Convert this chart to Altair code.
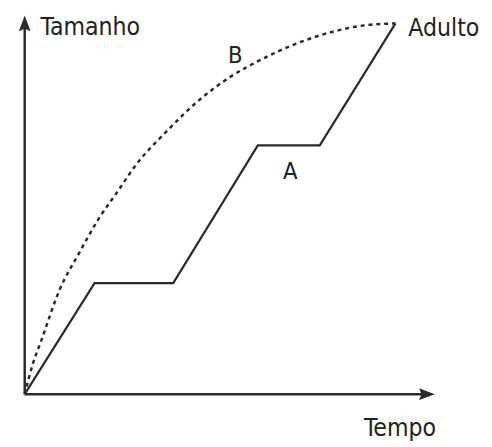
import altair as alt
import pandas as pd

# Line A (stepwise growth), in chart units (time, size)
a_x = [0, 71, 151, 237, 300, 377]
a_y = [0, 113, 113, 253, 253, 377]

# Curve B (continuous growth), read points
b_x = [0, 8, 17, 35, 55, 75, 95, 113, 145, 175, 208, 242, 275, 315, 345, 377]
b_y = [0, 30, 55, 105, 143, 178, 207, 233, 268, 297, 322, 341, 356, 369, 375, 377]

# Axes
axis_x = [0, 0]
axis_x2 = [0, 412]
axis_y = [0, 0]
axis_y2 = [378, 0]

# Labels
lab_text = ["Tamanho", "Adulto", "Tempo"]
lab_x = [16, 390, 345]
lab_y = [365, 364, -42]
ab_text = ["B", "A"]
ab_x = [214, 270]
ab_y = [337, 219]

X = alt.Scale(domain=[-17, 467], nice=False, zero=False)
Y = alt.Scale(domain=[-50, 389], nice=False, zero=False)
FONT = "DejaVu Sans Condensed, Liberation Sans Narrow, Roboto, sans-serif"
INK = "#2a2a2a"

dfA = pd.DataFrame({"x": a_x, "y": a_y, "o": range(len(a_x))})
dfB = pd.DataFrame({"x": b_x, "y": b_y, "o": range(len(b_x))})
dfAx = pd.DataFrame({"x": axis_x, "x2": axis_x2, "y": axis_y, "y2": axis_y2})
dfArrow = pd.DataFrame({"x": [0, 407], "y": [375, 0], "ang": [0, 90]})
dfLab = pd.DataFrame({"t": lab_text, "x": lab_x, "y": lab_y})
dfAB = pd.DataFrame({"t": ab_text, "x": ab_x, "y": ab_y})

axes = alt.Chart(dfAx).mark_rule(color=INK, strokeWidth=2.5).encode(
    x=alt.X("x:Q", scale=X, axis=None), x2="x2:Q",
    y=alt.Y("y:Q", scale=Y, axis=None), y2="y2:Q")

arrow_path = "M0,-1 L0.6,0.6 L0,0.35 L-0.6,0.6 Z"
arrows = alt.Chart(dfArrow).mark_point(
    shape=arrow_path, size=400, filled=True, color=INK, opacity=1, strokeWidth=0
).encode(x=alt.X("x:Q", scale=X, axis=None), y=alt.Y("y:Q", scale=Y, axis=None),
         angle=alt.Angle("ang:Q", scale=None))

lineA = alt.Chart(dfA).mark_line(color=INK, strokeWidth=2.2).encode(
    x=alt.X("x:Q", scale=X, axis=None), y=alt.Y("y:Q", scale=Y, axis=None), order="o:Q")

lineB = alt.Chart(dfB).mark_line(color=INK, strokeWidth=2.5, strokeDash=[4, 4],
                                 interpolate="monotone").encode(
    x=alt.X("x:Q", scale=X, axis=None), y=alt.Y("y:Q", scale=Y, axis=None), order="o:Q")

labels = alt.Chart(dfLab).mark_text(font=FONT, fontSize=25, color="#222",
                                    align="left", baseline="alphabetic").encode(
    x=alt.X("x:Q", scale=X, axis=None), y=alt.Y("y:Q", scale=Y, axis=None), text="t:N")

ab = alt.Chart(dfAB).mark_text(font=FONT, fontSize=24, color="#222",
                               align="center", baseline="alphabetic").encode(
    x=alt.X("x:Q", scale=X, axis=None), y=alt.Y("y:Q", scale=Y, axis=None), text="t:N")

chart = alt.layer(axes, lineB, lineA, arrows, labels, ab).properties(
    width=484, height=439, padding=0, autosize=alt.AutoSizeParams(type="none")
).configure_view(stroke=None)

chart.save("out.html", embed_options={"renderer": "svg", "actions": False})
